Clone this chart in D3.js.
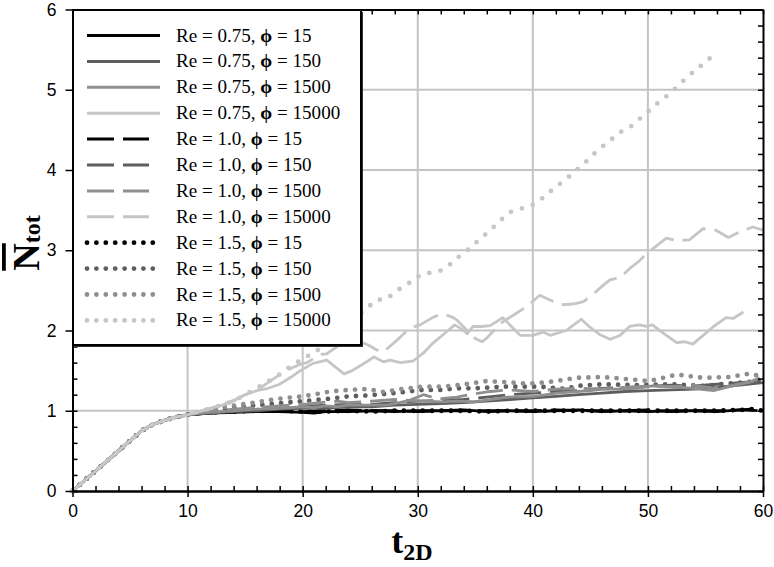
<!DOCTYPE html>
<html><head><meta charset="utf-8">
<script src="https://cdn.jsdelivr.net/npm/d3@7"></script>
<style>body{margin:0;background:#fff}svg{display:block}</style>
</head><body>
<svg id="c" width="774" height="567"></svg>
<script>
// ---------- DATA ----------
const rampT = [0, 2, 4, 6, 7, 8, 9, 10];
const rampN = [0, 0.25, 0.5, 0.75, 0.83, 0.88, 0.92, 0.95];

const reLabels  = ["0.75", "1.0", "1.5"];
const phiLabels = ["15", "150", "1500", "15000"];

// Re = 0.75 (solid)
const re075_phi15 = [[11,.96],[12,.97],[14,.98],[16,.99],[18,.99],[20,.98],[21,.97],[22,.99],[24,.99],[26,1.0],[28,.99],[30,1.0],[32,1.0],[34,1.01],[36,.99],[38,1.0],[40,.99],[42,1.0],[44,1.01],[46,.99],[48,1.0],[50,.99],[52,1.0],[54,1.0],[56,.99],[58,1.01],[59,1.02]];
const re075_phi150 = [[11,.96],[12,.97],[14,.99],[16,1.0],[18,1.02],[20,1.03],[22,1.03],[24,1.05],[26,1.05],[28,1.07],[30,1.08],[32,1.09],[34,1.10],[36,1.12],[38,1.14],[40,1.16],[42,1.18],[44,1.20],[46,1.22],[48,1.24],[50,1.25],[52,1.26],[54,1.27],[56,1.29],[58,1.32],[60,1.35]];
const re075_phi1500 = [[11,.97],[12,.98],[14,1.0],[16,1.02],[18,1.03],[20,1.05],[21,1.04],[22,1.06],[23,1.05],[24,1.07],[26,1.07],[27.3,1.07],[28,1.09],[29.3,1.13],[30.5,1.12],[32,1.11],[33.4,1.12],[34.9,1.11],[36.3,1.14],[37.8,1.17],[40.1,1.18],[42.1,1.22],[43.8,1.24],[45,1.25],[46.1,1.27],[47.5,1.27],[49,1.28],[50.4,1.31],[51.9,1.30],[53,1.29],[54.5,1.27],[55.7,1.25],[57.1,1.30],[58.9,1.36],[59.7,1.41]];
const re075_phi15000 = [[11,.99],[12,1.03],[13,1.07],[14,1.12],[15,1.2],[16,1.25],[17,1.28],[18,1.33],[19,1.42],[19.8,1.50],[20.9,1.59],[22.1,1.63],[22.8,1.55],[23.6,1.46],[24.3,1.50],[25,1.56],[26.2,1.67],[27,1.61],[27.6,1.63],[28.5,1.60],[29.6,1.62],[30.5,1.72],[31.3,1.84],[32.3,1.96],[33.2,2.07],[33.8,2.02],[34.3,1.96],[34.8,2.05],[35.5,2.05],[36.3,2.06],[37.4,2.16],[38.2,2.04],[38.9,1.94],[40.0,1.94],[40.9,1.98],[41.5,1.94],[42.9,2.00],[44.2,2.14],[44.9,2.05],[45.8,1.95],[46.7,1.89],[47.6,1.94],[48.4,2.05],[49.2,2.07],[49.9,2.05],[50.4,2.07],[51.3,1.97],[52.5,1.85],[53.2,1.86],[53.9,1.83],[54.8,1.94],[55.7,2.05],[56.8,2.16],[57.4,2.15],[58.3,2.23]];

// Re = 1.0 (dashed)
const re10_phi15 = [[11,.96],[12,.97],[14,.99],[16,1.0],[18,1.0],[20,.99],[22,1.0],[24,1.01],[26,1.0],[28,1.0],[30,.99],[32,1.0],[34,1.0],[36,1.0],[38,1.0],[40,1.0],[42,1.01],[44,1.0],[46,1.0],[48,1.0],[50,1.01],[52,.99],[54,1.0],[56,1.0],[58,1.01],[60,1.0]];
const re10_phi150 = [[11,.96],[12,.98],[14,1.0],[16,1.01],[18,1.03],[20,1.05],[22,1.07],[24,1.08],[26,1.08],[28,1.10],[30,1.12],[32,1.13],[34,1.14],[36,1.17],[38,1.20],[40,1.22],[42,1.24],[44,1.25],[46,1.28],[48,1.29],[50,1.30],[52,1.32],[54,1.31],[56,1.33],[58,1.35],[60,1.37]];
const re10_phi1500 = [[11,.97],[12,.99],[14,1.02],[16,1.04],[18,1.06],[20,1.08],[22.1,1.11],[23,1.12],[24,1.10],[25,1.11],[26,1.12],[28,1.14],[29.3,1.13],[30.5,1.20],[31,1.18],[32,1.15],[33.4,1.17],[34.5,1.20],[36.3,1.24],[37.8,1.26],[40,1.24],[42.1,1.27],[43.8,1.28],[46.1,1.27],[48,1.29],[50.4,1.31],[52,1.30],[54,1.32],[55.7,1.28],[57.1,1.31],[58.9,1.36],[60,1.40]];
const re10_phi15000 = [[11,.99],[12,1.03],[13,1.08],[14,1.13],[15,1.2],[16,1.26],[17,1.35],[18,1.45],[19,1.53],[19.8,1.58],[20.4,1.60],[21.5,1.70],[22.1,1.71],[23.3,1.83],[24.1,1.85],[25.0,1.86],[25.7,1.82],[26.4,1.76],[27.0,1.73],[28.2,1.88],[29.3,2.03],[30.2,2.07],[31.4,2.17],[32.2,2.21],[33.1,2.16],[33.4,2.13],[34.3,2.00],[35.0,1.90],[35.6,1.86],[36.1,1.92],[37.2,2.09],[38.4,2.20],[39.5,2.30],[40.6,2.44],[41.2,2.40],[42.4,2.32],[43.5,2.33],[44.4,2.36],[45.3,2.46],[46.0,2.55],[46.7,2.63],[47.6,2.66],[48.4,2.77],[49.2,2.86],[49.9,2.96],[50.8,3.06],[51.6,3.15],[52.5,3.12],[53.6,3.13],[54.8,3.27],[55.9,3.25],[57.0,3.16],[58.0,3.23],[59.1,3.29],[60,3.25]];

// Re = 1.5 (dotted)
const re15_phi15 = [[11,.97],[12,.98],[14,.99],[16,1.0],[18,1.0],[20,.99],[22,.99],[24,1.0],[26,.99],[28,1.0],[30,1.0],[32,1.0],[34,1.0],[36,.99],[38,1.0],[40,1.0],[42,1.0],[44,1.0],[46,1.0],[48,1.0],[50,1.0],[52,1.0],[54,1.0],[56,1.0],[58,1.01],[59,1.02],[60,1.0]];
const re15_phi150 = [[11,.98],[12,1.0],[13.8,1.03],[15.3,1.06],[17,1.08],[18.5,1.10],[20,1.12],[22.4,1.15],[24,1.18],[25.6,1.19],[28,1.22],[30.4,1.26],[32,1.26],[33.6,1.28],[35.1,1.28],[37.5,1.30],[40.6,1.30],[42.9,1.27],[43.8,1.31],[46.1,1.33],[49,1.32],[51.9,1.33],[54.8,1.31],[57.1,1.34],[58.9,1.36],[60,1.39]];
const re15_phi1500 = [[11,.99],[12,1.02],[13.8,1.06],[15.3,1.09],[17,1.13],[18.5,1.16],[20.1,1.18],[22.4,1.24],[24,1.26],[25.6,1.27],[27.2,1.23],[28,1.26],[30.4,1.30],[32,1.30],[33.6,1.32],[35.1,1.35],[36,1.37],[37.2,1.36],[39.2,1.34],[40,1.34],[41.5,1.36],[43.8,1.41],[46.1,1.42],[47.7,1.40],[50.1,1.37],[51.6,1.42],[52.5,1.45],[54.8,1.41],[57.1,1.42],[58.7,1.46],[60,1.43]];
const re15_phi15000 = [[11,.99],[12,1.03],[13,1.07],[14,1.12],[15,1.2],[16,1.28],[16.9,1.36],[17.8,1.43],[18.5,1.51],[19.4,1.59],[20.1,1.66],[20.9,1.71],[21.7,1.8],[22.5,1.9],[23.3,2.0],[24.1,2.1],[24.9,2.2],[25.6,2.28],[26.4,2.38],[27.2,2.39],[28.0,2.47],[28.8,2.56],[29.5,2.61],[30.3,2.70],[31.1,2.72],[31.9,2.74],[32.7,2.81],[33.5,2.91],[34.3,3.0],[35.1,3.1],[35.9,3.2],[36.6,3.29],[37.4,3.40],[38.2,3.49],[39.0,3.52],[39.8,3.55],[40.6,3.62],[41.4,3.72],[42.2,3.81],[43.0,3.90],[43.8,4.0],[44.6,4.1],[45.3,4.2],[46.1,4.3],[46.9,4.39],[47.7,4.48],[48.5,4.54],[49.3,4.64],[50.1,4.74],[50.9,4.84],[51.7,4.93],[52.5,5.03],[53.2,5.13],[54.0,5.23],[54.8,5.32],[55.6,5.42]];

const xMajor = [0, 10, 20, 30, 40, 50, 60];
const yMajor = [0, 1, 2, 3, 4, 5, 6];

// ---------- STYLE ----------
const phiColors = ["#000000", "#5e5e5e", "#8f8f8f", "#c6c6c6"];
const reStyles = [
  {dash: null, width: 2.8, cap: "butt"},
  {dash: "27 9", width: 2.8, cap: "butt"},
  {dash: "0 9.4", width: 4.8, cap: "round"}
];
const seriesData = [
  [re075_phi15, re075_phi150, re075_phi1500, re075_phi15000],
  [re10_phi15, re10_phi150, re10_phi1500, re10_phi15000],
  [re15_phi15, re15_phi150, re15_phi1500, re15_phi15000]
];

const svg = d3.select("#c");
const x = d3.scaleLinear().domain([0, 60]).range([72.5, 763]);
const y = d3.scaleLinear().domain([0, 6]).range([491, 9.5]);

// grid
const grid = svg.append("g").attr("stroke", "#c4c4c4").attr("stroke-width", 2);
grid.selectAll(".gx").data(xMajor.slice(1, -1)).join("line")
  .attr("x1", d => x(d)).attr("x2", d => x(d)).attr("y1", y(0)).attr("y2", y(6));
grid.selectAll(".gy").data(yMajor.slice(1, -1)).join("line")
  .attr("y1", d => y(d)).attr("y2", d => y(d)).attr("x1", x(0)).attr("x2", x(60));

// series (lightest phi drawn last, as in the reference)
const line = d3.line().x(d => x(d[0])).y(d => y(d[1]));
const plot = svg.append("g");
const order = [];
[0, 1, 2].forEach(pi => [0, 1, 2].forEach(ri => order.push([ri, pi])));
[0, 1, 2].forEach(ri => order.push([ri, 3]));
order.forEach(([ri, pi]) => {
  const data = seriesData[ri][pi];
  const pts = rampT.map((t, i) => [t, rampN[i]]).concat(data);
  const st = reStyles[ri];
  let dash = st.dash;
  if (ri === 2 && pi === 3) dash = "0 11.5";
  plot.append("path").datum(pts)
    .attr("d", line)
    .attr("fill", "none")
    .attr("stroke", phiColors[pi])
    .attr("stroke-width", st.width)
    .attr("stroke-linecap", st.cap)
    .attr("stroke-linejoin", "round")
    .attr("stroke-dasharray", dash);
});

// axes
const minorX = d3.range(0, 61, 2);
const minorY = d3.range(0, 6.01, 0.2);
const axStyle = g => { g.select(".domain").attr("stroke", "#000").attr("stroke-width", 2);
  g.selectAll(".tick line").attr("stroke", "#000").attr("stroke-width", 1.5);
  g.selectAll("text").attr("font-family", "'Liberation Sans', Arial, sans-serif").attr("font-size", 17.5).attr("fill", "#000"); };

svg.append("g").attr("transform", `translate(0,${y(0)})`)
  .call(d3.axisBottom(x).tickValues(minorX).tickSize(-5).tickFormat("").tickSizeOuter(0)).call(axStyle);
svg.append("g").attr("transform", `translate(0,${y(0)})`)
  .call(d3.axisBottom(x).tickValues(xMajor).tickSize(6).tickPadding(8).tickFormat(d3.format("d")).tickSizeOuter(0)).call(axStyle);
svg.append("g").attr("transform", `translate(0,${y(6)})`)
  .call(d3.axisTop(x).tickValues(minorX).tickSize(-5).tickFormat("").tickSizeOuter(0)).call(axStyle);
svg.append("g").attr("transform", `translate(${x(0)},0)`)
  .call(d3.axisLeft(y).tickValues(minorY).tickSize(-5).tickFormat("").tickSizeOuter(0)).call(axStyle);
svg.append("g").attr("transform", `translate(${x(0)},0)`)
  .call(d3.axisLeft(y).tickValues(yMajor).tickSize(7).tickPadding(9).tickFormat(d3.format("d")).tickSizeOuter(0)).call(axStyle);
svg.append("g").attr("transform", `translate(${x(60)},0)`)
  .call(d3.axisRight(y).tickValues(minorY).tickSize(-5).tickFormat("").tickSizeOuter(0)).call(axStyle);

// legend
const lg = svg.append("g");
const lx = 73, ly = 10, lw = 288, lh = 335;
lg.append("rect").attr("x", lx + 2).attr("y", ly + 2).attr("width", lw).attr("height", lh).attr("fill", "#333");
lg.append("rect").attr("x", lx).attr("y", ly).attr("width", lw).attr("height", lh)
  .attr("fill", "#fff").attr("stroke", "#000").attr("stroke-width", 2);
const rowH = 25.9, row0 = 35.5;
let k = 0;
reLabels.forEach((re, ri) => {
  phiLabels.forEach((phi, pi) => {
    const cy = row0 + k * rowH;
    const st = reStyles[ri];
    lg.append("line").attr("x1", 87).attr("x2", ri === 1 ? 149 : (ri === 2 ? 153 : 160))
      .attr("y1", cy).attr("y2", cy)
      .attr("stroke", phiColors[pi]).attr("stroke-width", ri === 2 ? 4.8 : 3)
      .attr("stroke-linecap", st.cap).attr("stroke-dasharray", ri === 1 ? "27 9" : st.dash);
    const t = lg.append("text").attr("transform", `translate(176,${cy + 6}) scale(1.06,1)`)
      .attr("font-family", "'Liberation Serif', 'Times New Roman', serif").attr("font-size", 18).attr("fill", "#000");
    t.append("tspan").text(`Re = ${re}, `);
    t.append("tspan").attr("font-weight", "bold").text("ϕ");
    t.append("tspan").text(` = ${phi}`);
    k++;
  });
});

// axis titles
const xt = svg.append("text").attr("x", 412).attr("y", 553).attr("text-anchor", "middle")
  .attr("font-family", "'Liberation Serif', 'Times New Roman', serif").attr("font-weight", "bold").attr("font-size", 36);
xt.append("tspan").text("t");
xt.append("tspan").attr("font-size", 24).attr("dy", 7).text("2D");

const yt = svg.append("text").attr("transform", "translate(39,243) rotate(-90)").attr("text-anchor", "middle")
  .attr("font-family", "'Liberation Serif', 'Times New Roman', serif").attr("font-weight", "bold").attr("font-size", 38);
yt.append("tspan").style("text-decoration", "overline").text("N");
yt.append("tspan").attr("font-size", 24).attr("dy", 1).text("tot");
</script>
</body></html>
